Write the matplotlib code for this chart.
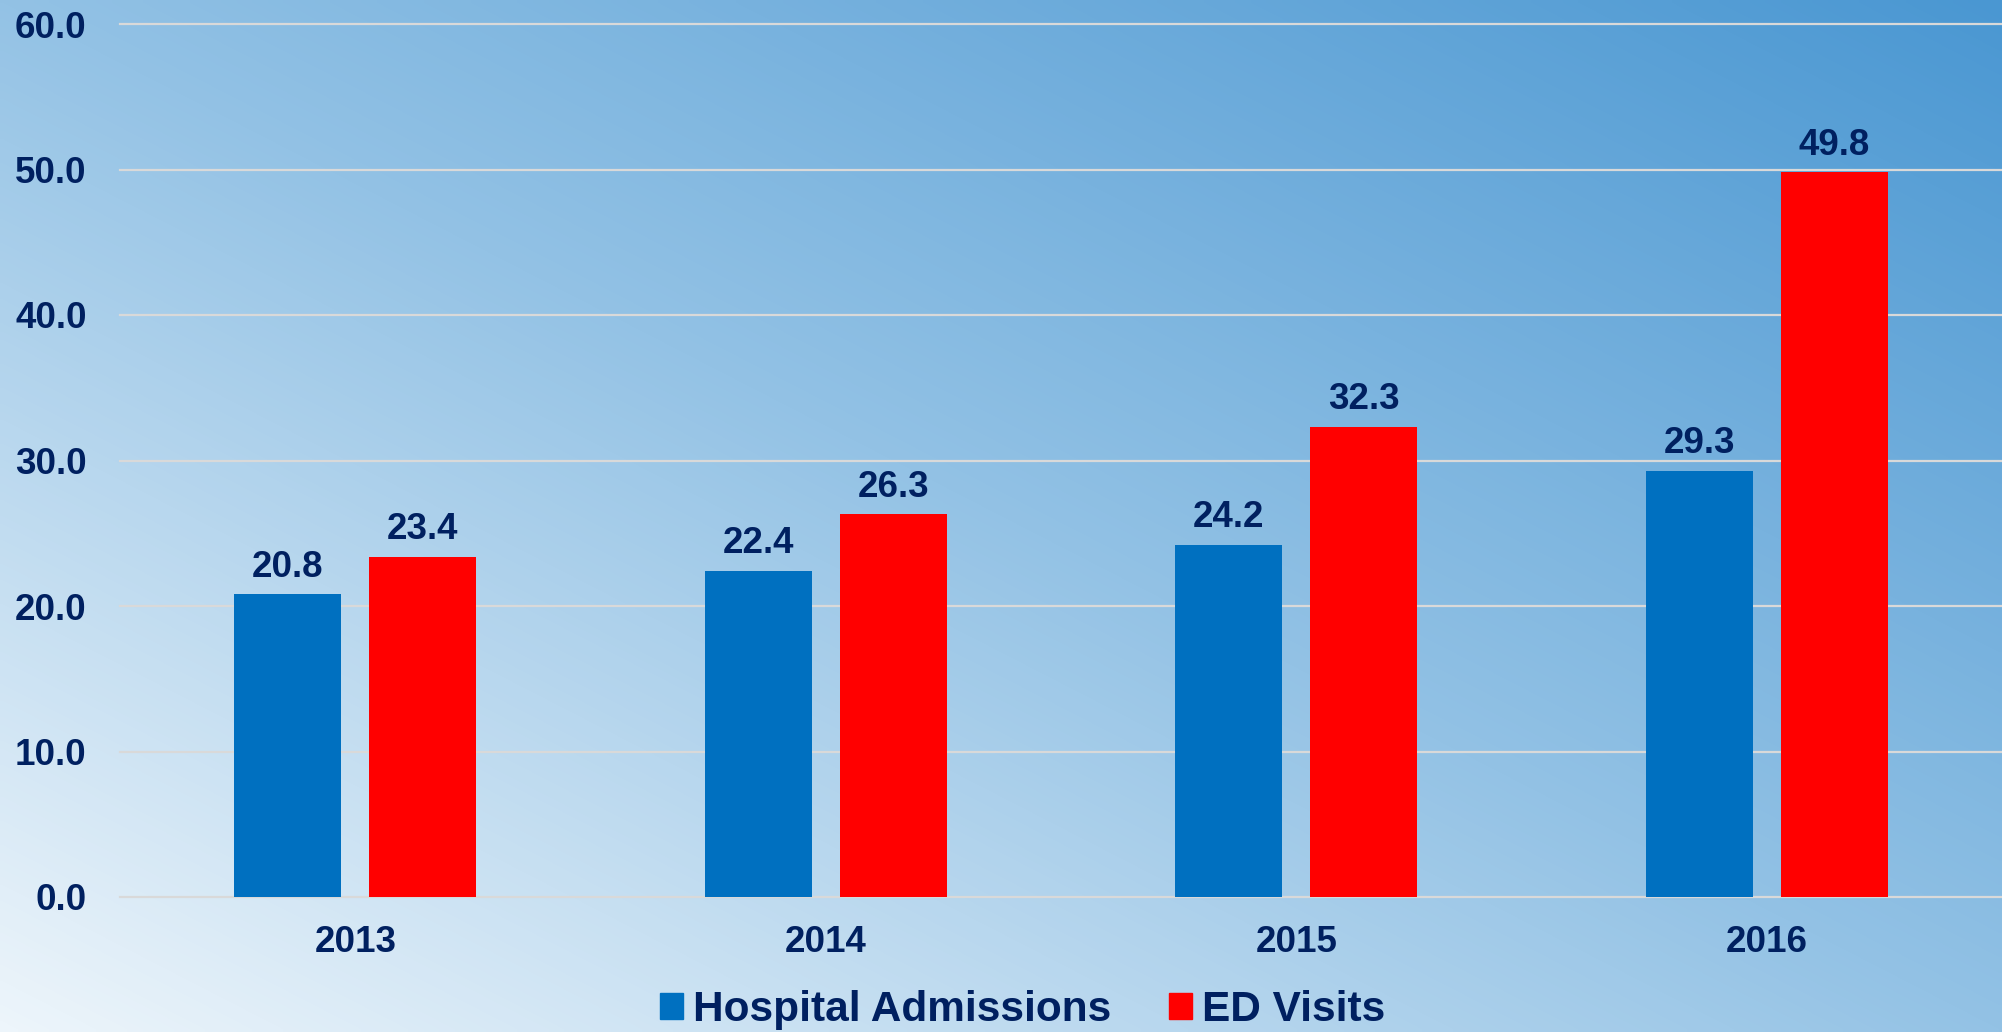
import numpy as np
import matplotlib.pyplot as plt
from matplotlib.colors import LinearSegmentedColormap
from matplotlib.patches import Patch

years = ['2013', '2014', '2015', '2016']
hospital_admissions = [20.8, 22.4, 24.2, 29.3]
ed_visits = [23.4, 26.3, 32.3, 49.8]
y_ticks = [0, 10, 20, 30, 40, 50, 60]

navy = '#002060'
blue = '#0070c0'
red = '#ff0000'
grid_gray = '#d9d9d9'

plt.rcParams['font.family'] = ['Liberation Sans', 'DejaVu Sans']
plt.rcParams['font.weight'] = 'bold'

fig = plt.figure(figsize=(20.02, 10.32), dpi=100)

# background gradient: pale bottom-left to deep blue top-right
bg = fig.add_axes([0, 0, 1, 1], zorder=-10)
gx, gy = np.meshgrid(np.linspace(0, 1, 400), np.linspace(0, 1, 200))
shade = (gx + gy) / 2
cmap = LinearSegmentedColormap.from_list(
    'bg', [(0, '#edf5fb'), (0.5, '#93c2e5'), (1, '#4a97d2')])
bg.imshow(shade, cmap=cmap, origin='lower', aspect='auto',
          extent=[0, 1, 0, 1], interpolation='bilinear')
bg.axis('off')

ax = fig.add_axes([120 / 2002, 135 / 1032, 1 - 120 / 2002, (1008 - 135) / 1032])
ax.set_facecolor('none')

x = np.arange(len(years))
width = 0.227
offset = 0.1435
bars_h = ax.bar(x - offset, hospital_admissions, width, color=blue, zorder=3)
bars_e = ax.bar(x + offset, ed_visits, width, color=red, zorder=3)
for bars, vals in ((bars_h, hospital_admissions), (bars_e, ed_visits)):
    ax.bar_label(bars, labels=[f'{v:.1f}' for v in vals], padding=7,
                 fontsize=26.5, color=navy, fontweight='bold')

ax.set_xlim(-0.5, 3.5)
ax.set_ylim(0, 60)
ax.set_yticks(y_ticks)
ax.set_yticklabels([f'{v:.1f}' for v in y_ticks])
ax.set_xticks(x)
ax.set_xticklabels(years)
ax.tick_params(length=0, labelsize=26.5, labelcolor=navy)
ax.tick_params(axis='y', pad=24)
ax.tick_params(axis='x', pad=20)
ax.yaxis.grid(True, color=grid_gray, lw=1.6)
ax.set_axisbelow(True)
for line in ax.get_ygridlines():
    line.set_clip_on(False)
for s in ax.spines.values():
    s.set_visible(False)

handles = [Patch(color=blue, label='Hospital Admissions'),
           Patch(color=red, label='ED Visits')]
fig.legend(handles=handles, loc='center left',
           bbox_to_anchor=(660 / 2002, 22 / 1032), ncol=2, frameon=False,
           prop={'weight': 'bold', 'size': 30.5},
           labelcolor=navy, handlelength=0.54, handleheight=0.57,
           handletextpad=0.24, columnspacing=1.37, borderpad=0, borderaxespad=0)

fig.savefig('out.png', dpi=100)
